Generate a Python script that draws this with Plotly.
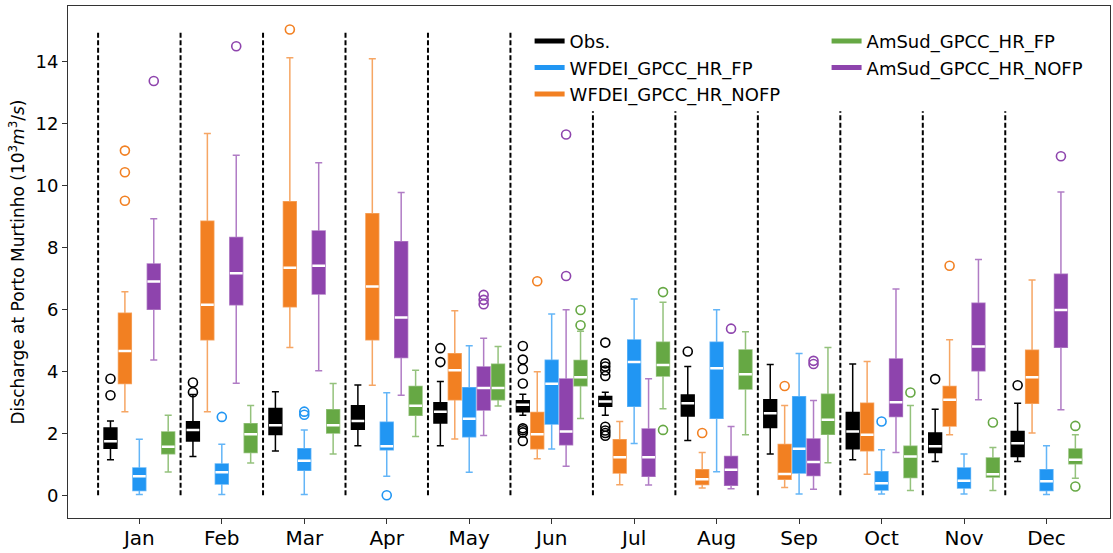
import plotly.graph_objects as go

months = ["Jan", "Feb", "Mar", "Apr", "May", "Jun",
          "Jul", "Aug", "Sep", "Oct", "Nov", "Dec"]

# box statistics per month: lower whisker, q1, median, q3, upper whisker
obs_low = [1.15, 1.25, 1.43, 1.60, 1.60, 2.58, 2.58, 1.77, 1.33, 1.15, 1.09, 1.09]
obs_q1 = [1.52, 1.75, 1.96, 2.13, 2.33, 2.70, 2.87, 2.56, 2.19, 1.50, 1.38, 1.25]
obs_med = [1.74, 2.11, 2.26, 2.40, 2.70, 2.92, 3.03, 2.97, 2.65, 2.06, 1.58, 1.68]
obs_q3 = [2.17, 2.37, 2.80, 2.89, 2.99, 3.05, 3.19, 3.24, 3.08, 2.67, 2.01, 2.06]
obs_high = [2.40, 3.25, 3.34, 3.56, 3.67, 3.26, 3.33, 4.16, 4.22, 4.24, 2.78, 2.97]
obs_out = [[3.76, 3.23], [3.64, 3.33], [], [], [4.75, 4.30],
           [4.82, 4.38, 4.08, 3.61, 2.16, 2.10, 2.03, 1.75],
           [4.93, 4.26, 4.16, 4.03, 3.85, 2.21, 2.09, 2.01, 1.92],
           [4.64], [], [], [3.75], [3.55]]

wfp_low = [0.02, 0.02, 0.02, 0.61, 0.74, 1.49, 1.67, 0.76, 0.04, 0.04, 0.04, 0.02]
wfp_q1 = [0.15, 0.36, 0.81, 1.47, 1.89, 2.30, 2.87, 2.49, 0.72, 0.17, 0.23, 0.15]
wfp_med = [0.61, 0.74, 1.11, 1.58, 2.47, 3.60, 4.30, 4.10, 1.50, 0.39, 0.47, 0.45]
wfp_q3 = [0.88, 1.01, 1.50, 2.36, 3.47, 4.36, 5.01, 4.94, 3.18, 0.76, 0.88, 0.82]
wfp_high = [1.81, 1.65, 2.11, 3.31, 4.83, 5.85, 6.34, 5.99, 4.58, 1.47, 1.33, 1.60]
wfp_out = [[], [2.53], [2.70, 2.60], [0.0], [], [], [], [], [], [2.38], [], []]

wnofp_low = [2.70, 2.70, 4.77, 3.55, 1.82, 1.18, 0.34, 0.23, 0.25, 0.68, 1.95, 2.01]
wnofp_q1 = [3.61, 5.02, 6.09, 5.02, 3.08, 1.50, 0.72, 0.35, 0.52, 1.44, 2.24, 2.97]
wnofp_med = [4.66, 6.15, 7.35, 6.74, 4.04, 1.97, 1.23, 0.52, 0.69, 1.95, 3.08, 3.81]
wnofp_q3 = [5.88, 8.85, 9.48, 9.09, 4.57, 2.67, 1.79, 0.82, 1.64, 2.97, 3.51, 4.68]
wnofp_high = [6.57, 11.68, 14.13, 14.10, 5.96, 3.99, 2.38, 1.38, 2.90, 4.32, 5.02, 6.95]
wnofp_out = [[11.13, 10.43, 9.51], [], [15.04], [], [], [6.91],
             [], [2.01], [3.53], [], [7.41], []]

anofp_low = [4.37, 3.62, 4.02, 3.23, 1.93, 0.94, 0.33, 0.21, 0.19, 1.38, 3.08, 2.76]
anofp_q1 = [6.01, 6.15, 6.50, 4.45, 2.75, 1.63, 0.61, 0.32, 0.64, 2.54, 4.02, 4.78]
anofp_med = [6.90, 7.17, 7.41, 5.74, 3.46, 2.06, 1.23, 0.82, 1.07, 3.00, 4.80, 5.98]
anofp_q3 = [7.47, 8.32, 8.53, 8.19, 4.14, 3.75, 2.14, 1.25, 1.82, 4.40, 6.20, 7.14]
anofp_high = [8.93, 10.98, 10.74, 9.78, 5.07, 5.99, 3.76, 2.22, 3.06, 6.66, 7.61, 9.79]
anofp_out = [[13.38], [14.50], [], [], [6.47, 6.31, 6.17], [11.65, 7.08],
             [], [5.38], [4.34, 4.24], [], [], [10.95]]

afp_low = [0.75, 1.04, 1.33, 1.90, 2.88, 2.48, 2.79, 1.95, 1.05, 0.15, 0.15, 0.55]
afp_q1 = [1.34, 1.38, 2.01, 2.58, 3.08, 3.54, 3.85, 3.43, 1.97, 0.57, 0.59, 1.02]
afp_med = [1.57, 1.97, 2.26, 2.89, 3.46, 3.81, 4.21, 3.91, 2.44, 1.25, 0.68, 1.15]
afp_q3 = [2.04, 2.31, 2.76, 3.51, 4.23, 4.35, 4.94, 4.69, 3.26, 1.58, 1.20, 1.49]
afp_high = [2.58, 2.90, 3.61, 4.04, 4.80, 5.30, 6.23, 5.28, 4.77, 2.90, 1.54, 1.95]
afp_out = [[], [], [], [], [], [5.98, 5.49], [6.56, 2.11], [], [], [3.32], [2.35], [2.24, 0.28]]

# drawing order inside a month (left to right)
series = [
    ("Obs.", "#000000", obs_low, obs_q1, obs_med, obs_q3, obs_high, obs_out),
    ("WFDEI_GPCC_HR_NOFP", "#F28022", wnofp_low, wnofp_q1, wnofp_med, wnofp_q3, wnofp_high, wnofp_out),
    ("WFDEI_GPCC_HR_FP", "#2196F3", wfp_low, wfp_q1, wfp_med, wfp_q3, wfp_high, wfp_out),
    ("AmSud_GPCC_HR_NOFP", "#8E44AD", anofp_low, anofp_q1, anofp_med, anofp_q3, anofp_high, anofp_out),
    ("AmSud_GPCC_HR_FP", "#66A844", afp_low, afp_q1, afp_med, afp_q3, afp_high, afp_out),
]

step = 0.175
box_w = 0.155


def faded(hex_color, alpha):
    r, g, b = (int(hex_color[i:i + 2], 16) for i in (1, 3, 5))
    return f"rgba({r},{g},{b},{alpha})"


fig = go.Figure()

for k, (name, color, low, q1, med, q3, high, out) in enumerate(series):
    xs = [i + (k - 2) * step for i in range(len(months))]

    fig.add_trace(go.Box(
        x=xs, q1=q1, median=med, q3=q3,
        lowerfence=low, upperfence=high,
        width=box_w, whiskerwidth=0.55,
        fillcolor=color,
        line=dict(color=faded(color, 0.7) if color != "#000000" else "#000000", width=1.5),
        boxpoints=False, showlegend=False, name=name,
    ))

    # white median bar
    fig.add_trace(go.Box(
        x=xs, q1=med, median=med, q3=med,
        lowerfence=med, upperfence=med,
        width=box_w, whiskerwidth=1,
        fillcolor="white",
        line=dict(color="white", width=2.5),
        boxpoints=False, showlegend=False, hoverinfo="skip",
    ))

    ox, oy = [], []
    for i, vals in enumerate(out):
        for v in vals:
            ox.append(xs[i])
            oy.append(v)
    fig.add_trace(go.Scatter(
        x=ox, y=oy, mode="markers",
        marker=dict(symbol="circle-open", size=9, color=color,
                    line=dict(width=1.6, color=color)),
        showlegend=False, hoverinfo="skip",
    ))

# legend handles
legend_of = {
    "Obs.": "legend", "WFDEI_GPCC_HR_FP": "legend", "WFDEI_GPCC_HR_NOFP": "legend",
    "AmSud_GPCC_HR_FP": "legend2", "AmSud_GPCC_HR_NOFP": "legend2",
}
legend_order = ["Obs.", "WFDEI_GPCC_HR_FP", "WFDEI_GPCC_HR_NOFP",
                "AmSud_GPCC_HR_FP", "AmSud_GPCC_HR_NOFP"]
colors = {s[0]: s[1] for s in series}
for name in legend_order:
    fig.add_trace(go.Scatter(
        x=[None], y=[None], mode="lines", name=name,
        line=dict(color=colors[name], width=5),
        legend=legend_of[name],
    ))

# dashed month separators
for i in range(len(months)):
    fig.add_shape(
        type="line", xref="x", yref="y",
        x0=i - 0.5, x1=i - 0.5, y0=0, y1=15 if i < 6 else 12.4,
        line=dict(color="black", width=2, dash="5px,2.5px"),
        layer="below",
    )

legend_style = dict(
    orientation="v", bgcolor="rgba(0,0,0,0)",
    font=dict(family="DejaVu Sans", size=18, color="black"),
    tracegroupgap=0, xanchor="left", yanchor="top",
    itemwidth=30,
)

fig.update_layout(
    width=1113, height=553,
    margin=dict(l=68, r=3, t=6, b=35, autoexpand=False),
    plot_bgcolor="white", paper_bgcolor="white",
    font=dict(family="DejaVu Sans", color="black"),
    boxmode="overlay",
    legend=dict(x=0.443, y=0.967, **legend_style),
    legend2=dict(x=0.728, y=0.967, **legend_style),
    xaxis=dict(
        range=[-0.865, 11.77],
        tickvals=list(range(len(months))), ticktext=months,
        tickfont=dict(size=20), ticklabelstandoff=-3,
        ticks="outside", ticklen=5, tickcolor="#333",
        showgrid=False, zeroline=False, automargin=False,
        showline=True, mirror=True, linecolor="#333", linewidth=1,
    ),
    yaxis=dict(
        range=[-0.735, 15.8],
        tickvals=list(range(0, 15, 2)),
        tickfont=dict(size=18),
        ticks="outside", ticklen=5, tickcolor="#333",
        showgrid=False, zeroline=False, automargin=False,
        showline=True, mirror=True, linecolor="#333", linewidth=1,
        title=dict(text="Discharge at Porto Murtinho (10<sup>3</sup><i>m</i><sup>3</sup>/<i>s</i>)",
                   font=dict(size=17), standoff=6),
    ),
)

fig.write_html("out.html", config={"displayModeBar": False},
               post_script="document.body.style.margin = '0px';")
